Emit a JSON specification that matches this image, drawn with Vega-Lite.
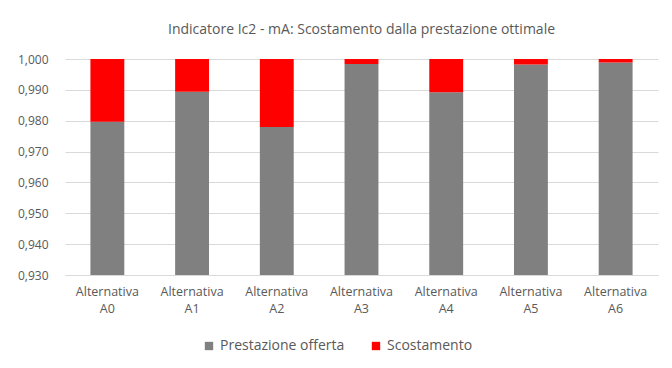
{
  "$schema": "https://vega.github.io/schema/vega-lite/v6.json",
  "width": 593,
  "height": 216,
  "autosize": {"type": "none"},
  "padding": {"left": 65, "top": 59, "right": 14, "bottom": 93},
  "background": "white",
  "title": {
    "text": "Indicatore Ic2 - mA: Scostamento dalla prestazione ottimale",
    "font": "Open Sans",
    "fontSize": 14,
    "fontWeight": "normal",
    "color": "#595959",
    "anchor": "middle",
    "frame": "group",
    "offset": 16
  },
  "data": {
    "values": [
      {"alt": "Alternativa A0", "serie": "Prestazione offerta", "ord": 1, "v": 0.9797},
      {"alt": "Alternativa A0", "serie": "Scostamento", "ord": 2, "v": 0.0203},
      {"alt": "Alternativa A1", "serie": "Prestazione offerta", "ord": 1, "v": 0.9894},
      {"alt": "Alternativa A1", "serie": "Scostamento", "ord": 2, "v": 0.0106},
      {"alt": "Alternativa A2", "serie": "Prestazione offerta", "ord": 1, "v": 0.9780},
      {"alt": "Alternativa A2", "serie": "Scostamento", "ord": 2, "v": 0.0220},
      {"alt": "Alternativa A3", "serie": "Prestazione offerta", "ord": 1, "v": 0.9984},
      {"alt": "Alternativa A3", "serie": "Scostamento", "ord": 2, "v": 0.0016},
      {"alt": "Alternativa A4", "serie": "Prestazione offerta", "ord": 1, "v": 0.9892},
      {"alt": "Alternativa A4", "serie": "Scostamento", "ord": 2, "v": 0.0108},
      {"alt": "Alternativa A5", "serie": "Prestazione offerta", "ord": 1, "v": 0.9982},
      {"alt": "Alternativa A5", "serie": "Scostamento", "ord": 2, "v": 0.0018},
      {"alt": "Alternativa A6", "serie": "Prestazione offerta", "ord": 1, "v": 0.9989},
      {"alt": "Alternativa A6", "serie": "Scostamento", "ord": 2, "v": 0.0011}
    ]
  },
  "mark": {"type": "bar", "clip": true},
  "encoding": {
    "x": {
      "field": "alt",
      "type": "nominal",
      "sort": null,
      "scale": {"paddingInner": 0.6, "paddingOuter": 0.3},
      "axis": {
        "title": null,
        "labelAngle": 0,
        "labelExpr": "split(datum.label, ' ')",
        "labelFont": "Open Sans",
        "labelFontSize": 12.5,
        "labelColor": "#595959",
        "labelPadding": 10,
        "labelLineHeight": 17,
        "ticks": false,
        "domain": true,
        "domainColor": "#d9d9d9",
        "grid": false
      }
    },
    "y": {
      "field": "v",
      "type": "quantitative",
      "stack": "zero",
      "scale": {"domain": [0.93, 1.0], "nice": false, "zero": false},
      "axis": {
        "title": null,
        "values": [0.93, 0.94, 0.95, 0.96, 0.97, 0.98, 0.99, 1.0],
        "labelExpr": "replace(format(datum.value, '.3f'), '.', ',')",
        "labelFont": "Open Sans",
        "labelFontSize": 12,
        "labelColor": "#595959",
        "labelPadding": 17,
        "ticks": false,
        "domain": false,
        "grid": true,
        "gridColor": "#d9d9d9"
      }
    },
    "color": {
      "field": "serie",
      "type": "nominal",
      "scale": {"domain": ["Prestazione offerta", "Scostamento"], "range": ["#808080", "#ff0000"]},
      "legend": {
        "title": null,
        "orient": "none",
        "legendX": 137,
        "legendY": 280,
        "direction": "horizontal",
        "symbolType": "square",
        "symbolSize": 70,
        "labelOffset": 4,
        "labelFont": "Open Sans",
        "labelFontSize": 14,
        "labelColor": "#595959",
        "columnPadding": 24
      }
    },
    "order": {"field": "ord", "type": "quantitative"}
  },
  "config": {
    "view": {"stroke": null}
  }
}
